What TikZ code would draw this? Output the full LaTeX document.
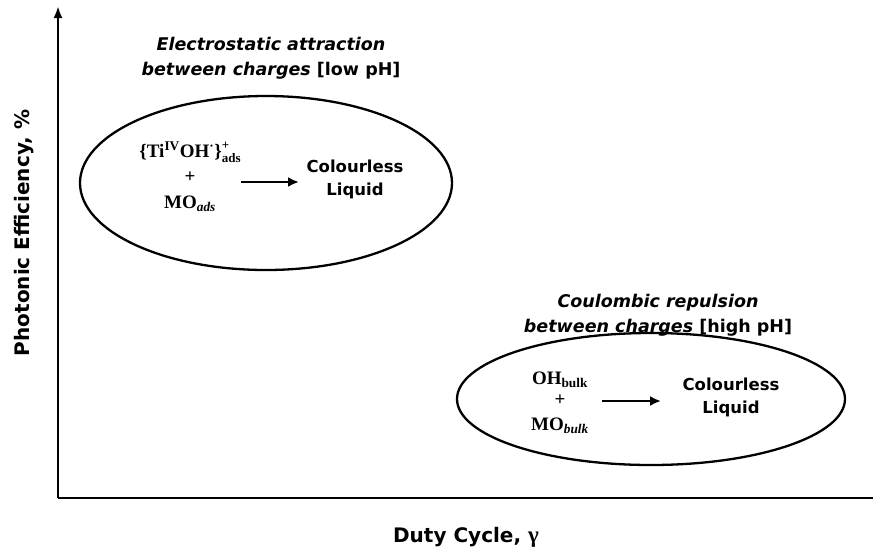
\documentclass[tikz,border=0pt]{standalone}
\usepackage{fontspec}
\setmainfont{DejaVu Sans}
\newfontfamily\chemfont{Liberation Serif}
\usetikzlibrary{arrows.meta}
\newcommand{\supsubstack}[2]{{\fontsize{13}{13}\selectfont\rlap{\raisebox{8pt}{#1}}\raisebox{-5pt}{#2}}}
\begin{document}
\begin{tikzpicture}[x=1pt,y=-1pt,
  blob/.style={draw,line width=2.3pt},
  lbl/.style={font=\fontsize{16.5}{23}\selectfont\bfseries,align=center},
  ttl/.style={font=\fontsize{17.5}{25}\selectfont\bfseries,align=center},
  chem/.style={font=\chemfont\fontsize{19}{22}\selectfont\bfseries,align=center,inner sep=0pt},
  rx/.style={-{Latex[length=11pt,width=10pt]},line width=2.8pt},
  axis/.style={line width=2.4pt}]
\useasboundingbox (0,0) rectangle (873,558);
% axes
\coordinate (O) at (58,498);
\coordinate (Ytop) at (58,6);
\coordinate (Xend) at (873,498);
\draw[axis,-{Latex[length=12pt,width=9pt]}] (O) -- (Ytop);
\draw[axis] (O) -- (Xend);
\node[font=\fontsize{20}{22}\selectfont\bfseries,rotate=90] (ylab) at (24,233) {Photonic Efficiency, \%};
\node[font=\fontsize{20}{22}\selectfont\bfseries] (xlab) at (466,537) {Duty Cycle, {\chemfont\fontsize{23}{22}\selectfont γ}};
% ellipse 1
\draw[blob] (266,183) ellipse [x radius=186, y radius=87];
\node[ttl] (t1) at (271,58) {\itshape Electrostatic attraction\\\itshape between charges \upshape[low pH]};
\node[chem] (r1) at (190,152) {\{Ti\textsuperscript{IV}OH\textsuperscript{·}\}\supsubstack{+}{ads}};
\node[chem] (p1) at (190,177) {+};
\node[chem] (m1) at (190,204) {MO\textsubscript{\itshape ads}};
\node[lbl] (c1) at (355,179) {Colourless\\Liquid};
\coordinate (a1s) at (241,182);
\coordinate (a1e) at (299,182);
\draw[rx] (a1s) -- (a1e);
% ellipse 2
\draw[blob] (651,399) ellipse [x radius=194, y radius=66];
\node[ttl] (t2) at (658,315) {\itshape Coulombic repulsion\\\itshape between charges \upshape[high pH]};
\node[chem] (r2) at (560,380) {OH\textsubscript{bulk}};
\node[chem] (p2) at (560,400) {+};
\node[chem] (m2) at (560,426) {MO\textsubscript{\itshape bulk}};
\node[lbl] (c2) at (731,397) {Colourless\\Liquid};
\coordinate (a2s) at (602,401);
\coordinate (a2e) at (661,401);
\draw[rx] (a2s) -- (a2e);
\end{tikzpicture}
\end{document}
